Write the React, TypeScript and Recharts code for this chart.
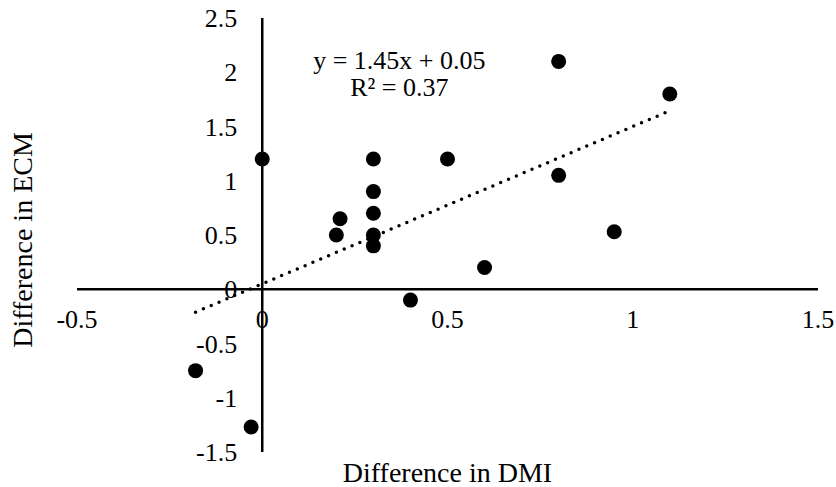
import React from "react";
import {
  ScatterChart,
  Scatter,
  XAxis,
  YAxis,
  ReferenceLine,
  ReferenceDot,
} from "recharts";

// difference in DMI (x) and difference in ECM (y), one entry per cow
const dmiDiff = [0, -0.18, -0.03, 0.2, 0.21, 0.3, 0.3, 0.3, 0.3, 0.3, 0.4, 0.5, 0.6, 0.8, 0.8, 0.95, 1.1];
const ecmDiff = [1.2, -0.75, -1.27, 0.5, 0.65, 1.2, 0.9, 0.7, 0.5, 0.4, -0.1, 1.2, 0.2, 2.1, 1.05, 0.53, 1.8];

const xTicks = [-0.5, 0, 0.5, 1, 1.5];
const yTicks = [-1.5, -1, -0.5, 0, 0.5, 1, 1.5, 2, 2.5];

// linear trendline as printed on the chart
const slope = 1.45;
const intercept = 0.05;
const rSquared = 0.37;

const FONT = "'Liberation Serif', 'Times New Roman', serif";
const TICK_SIZE = 26;
const TITLE_SIZE = 28;

const points = dmiDiff.map((x, i) => ({ x, y: ecmDiff[i] }));
const xMin = Math.min(...dmiDiff);
const xMax = Math.max(...dmiDiff);
const trend = [
  { x: xMin, y: slope * xMin + intercept },
  { x: xMax, y: slope * xMax + intercept },
];

const Dot = (props: any) => <circle cx={props.cx} cy={props.cy} r={7.5} fill="#000" />;

const xTickShape = (label: string) => (props: any) => (
  <text x={props.cx} y={props.cy + 39} textAnchor="middle" fontFamily={FONT} fontSize={TICK_SIZE} fill="#000">
    {label}
  </text>
);

const yTickShape = (label: string) => (props: any) => (
  <text x={props.cx - 25} y={props.cy + 9} textAnchor="end" fontFamily={FONT} fontSize={TICK_SIZE} fill="#000">
    {label}
  </text>
);

const equationShape = (props: any) => (
  <text textAnchor="middle" fontFamily={FONT} fontSize={26} fill="#000">
    <tspan x={props.cx} y={props.cy - 1}>
      {`y = ${slope}x + ${intercept}`}
    </tspan>
    <tspan x={props.cx} y={props.cy + 26}>
      {`R² = ${rSquared}`}
    </tspan>
  </text>
);

export default function App() {
  return (
    <div style={{ position: "absolute", left: 0, top: 0, background: "#fff" }}>
      <ScatterChart width={836} height={487} margin={{ top: 18, right: 18, bottom: 0, left: 0 }}>
        <XAxis
          type="number"
          dataKey="x"
          domain={[-0.5, 1.5]}
          ticks={xTicks}
          height={35}
          axisLine={false}
          tickLine={false}
          tick={false}
          label={{
            value: "Difference in DMI",
            position: "insideBottom",
            offset: 5,
            fill: "#000",
            fontSize: TITLE_SIZE,
            fontFamily: FONT,
          }}
        />
        <YAxis
          type="number"
          dataKey="y"
          domain={[-1.5, 2.5]}
          ticks={yTicks}
          width={77}
          axisLine={false}
          tickLine={false}
          tick={false}
          label={{
            value: "Difference in ECM",
            angle: -90,
            position: "insideLeft",
            offset: 22,
            dy: 5,
            fill: "#000",
            fontSize: TITLE_SIZE,
            fontFamily: FONT,
            style: { textAnchor: "middle" },
          }}
        />
        <ReferenceLine y={0} stroke="#000" strokeWidth={2.5} />
        <ReferenceLine x={0} stroke="#000" strokeWidth={2.5} />
        {xTicks.map((t) => (
          <ReferenceDot key={`xt${t}`} x={t} y={0} r={0} shape={xTickShape(String(t))} />
        ))}
        {yTicks.map((t) => (
          <ReferenceDot key={`yt${t}`} x={0} y={t} r={0} shape={yTickShape(String(t))} />
        ))}
        <ReferenceLine
          segment={trend}
          stroke="#000"
          strokeWidth={3.5}
          strokeDasharray="0 8.5"
          strokeLinecap="round"
        />
        <Scatter data={points} shape={Dot} isAnimationActive={false} />
        <ReferenceDot x={0.37} y={2.02} r={0} shape={equationShape} />
      </ScatterChart>
    </div>
  );
}
